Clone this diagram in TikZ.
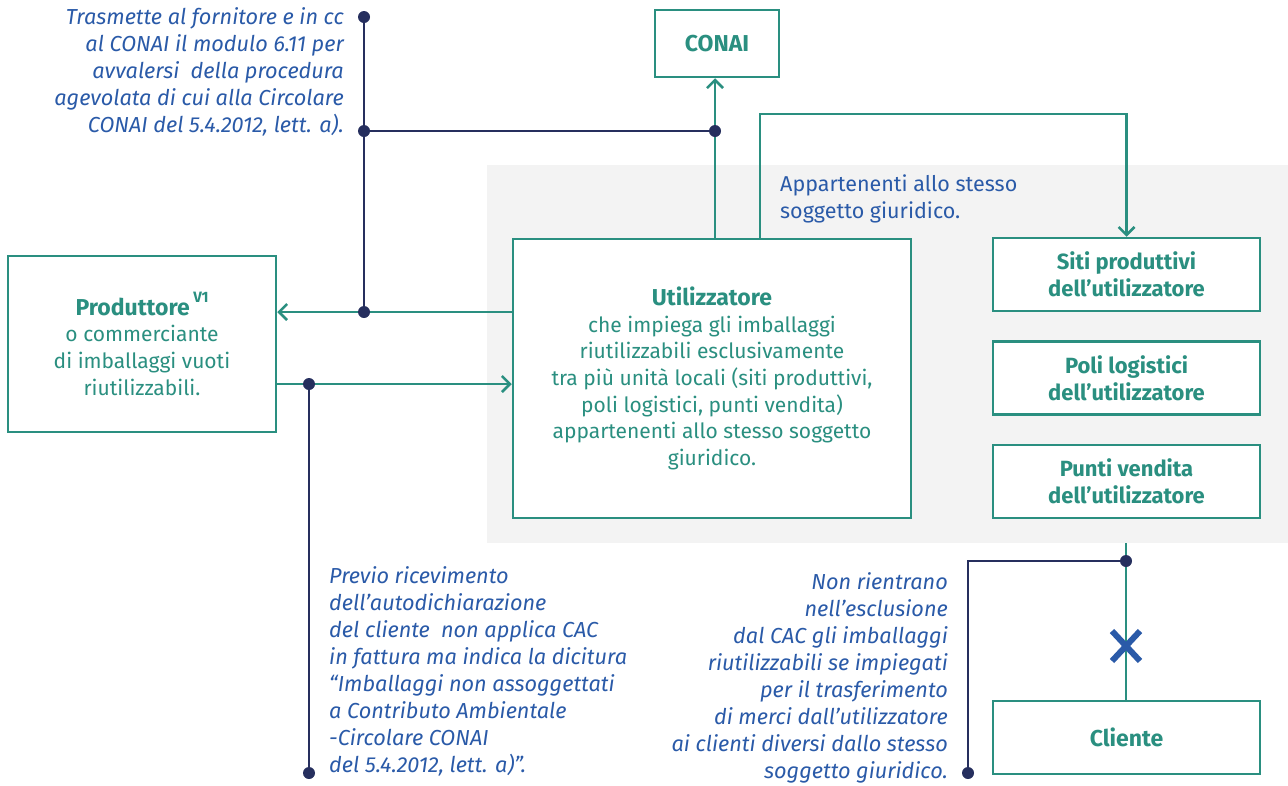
\documentclass[tikz,border=0pt]{standalone}
\usepackage{fontspec}
\setmainfont{Fira Sans}
\usetikzlibrary{arrows.meta}
\definecolor{tealc}{HTML}{2A8F80}
\definecolor{navy}{HTML}{262F5E}
\definecolor{blu}{HTML}{2A5AA8}
\definecolor{bgc}{HTML}{F3F3F3}
\newcommand{\hd}[1]{{\fontsize{23}{26.5}\selectfont\bfseries #1}}
\begin{document}
\begin{tikzpicture}[x=1pt,y=-1pt,
 box/.style={draw=tealc,line width=2.5pt,fill=white,inner sep=0pt,align=center,text=tealc,font=\fontsize{21}{26.7}\selectfont},
 lbl/.style={box,font=\fontsize{22}{27}\selectfont\bfseries},
 conn/.style={draw=tealc,line width=2.5pt},
 lead/.style={draw=navy,line width=2.5pt},
 tip/.style={-{Straight Barb[length=8pt,width=16pt,line width=2.5pt]}},
 dot/.style={circle,fill=navy,inner sep=0pt,minimum size=12pt},
 note/.style={text=blu,font=\itshape\fontsize{21.7}{27}\selectfont,inner sep=0pt}]
\useasboundingbox (0,0) rectangle (1288,785);
\fill[bgc] (487,165) rectangle (1288,543);

\node[lbl,font=\fontsize{23}{27}\selectfont\bfseries,minimum width=124pt,minimum height=67pt] (conai) at (717,43.5) {CONAI};
\node[box,minimum width=268pt,minimum height=176pt] (prod) at (142,344) {\hd{Produttore}\,\raisebox{1.1ex}{\fontsize{15}{15}\selectfont\bfseries V1}\\o commerciante\\di imballaggi vuoti\\riutilizzabili.};
\node[box,minimum width=398pt,minimum height=279pt] (util) at (712,378.5) {\hd{Utilizzatore}\\che impiega gli imballaggi\\riutilizzabili esclusivamente\\tra più unità locali (siti produttivi,\\poli logistici, punti vendita)\\appartenenti allo stesso soggetto\\giuridico.};
\node[lbl,minimum width=267pt,minimum height=73pt] (siti) at (1126.5,274.5) {Siti produttivi\\dell'utilizzatore};
\node[lbl,minimum width=267pt,minimum height=73pt] (poli) at (1126.5,378) {Poli logistici\\dell'utilizzatore};
\node[lbl,minimum width=267pt,minimum height=73pt] (punti) at (1126.5,481.5) {Punti vendita\\dell'utilizzatore};
\node[lbl,font=\fontsize{23}{27}\selectfont\bfseries,minimum width=267pt,minimum height=73pt] (cliente) at (1126.5,737.5) {Cliente};

\coordinate (cu) at (715,239);
\coordinate (j1) at (715,131);
\coordinate (su) at (760,239);
\coordinate (s1) at (760,114);
\coordinate (t1) at (364,17);
\coordinate (j2) at (364,131);
\coordinate (j3) at (364,312);
\coordinate (j4) at (309,384);
\coordinate (b1) at (309,773);
\coordinate (g1) at (1126,543);
\coordinate (j5) at (1126,561);
\coordinate (b2) at (968,773);

\draw[conn,tip] (cu) -- (cu |- conai.south);
\draw[conn,tip] (su) -- (s1) -| (siti.north);
\draw[conn,tip] (util.west |- j3) -- (prod.east |- j3);
\draw[conn,tip] (prod.east |- j4) -- (util.west |- j4);
\draw[conn] (g1) -- (cliente.north -| g1);

\draw[lead] (t1) -- (j3);
\draw[lead] (j2) -- (j1);
\draw[lead] (j4) -- (b1);
\draw[lead] (j5) -| (b2);

\foreach \p in {t1,j1,j2,j3,j4,b1,j5,b2} \node[dot] at (\p) {};

\draw[blu,line width=6pt] (1112,631) -- (1140,661) (1112,661) -- (1140,631);

\node[note,anchor=north east,align=right] (n1) at (344,7) {Trasmette al fornitore e in cc\\al CONAI il modulo 6.11 per\\avvalersi\ \ della procedura\\agevolata di cui alla Circolare\\CONAI del 5.4.2012, lett. a).};
\node[note,anchor=north west,align=left] (n2) at (329,566) {Previo ricevimento\\dell’autodichiarazione\\del cliente\ \ non applica CAC\\in fattura ma indica la dicitura\\“Imballaggi non assoggettati\\a Contributo Ambientale\\-Circolare CONAI\\del 5.4.2012, lett. a)”.};
\node[note,anchor=north east,align=right] (n3) at (948,572) {Non rientrano\\nell’esclusione\\dal CAC gli imballaggi\\riutilizzabili se impiegati\\per il trasferimento\\di merci dall’utilizzatore\\ai clienti diversi dallo stesso\\soggetto giuridico.};
\node[text=blu,font=\fontsize{21.5}{27}\selectfont,inner sep=0pt,anchor=north west,align=left] (n4) at (780,175) {Appartenenti allo stesso\\soggetto giuridico.};
\end{tikzpicture}
\end{document}
